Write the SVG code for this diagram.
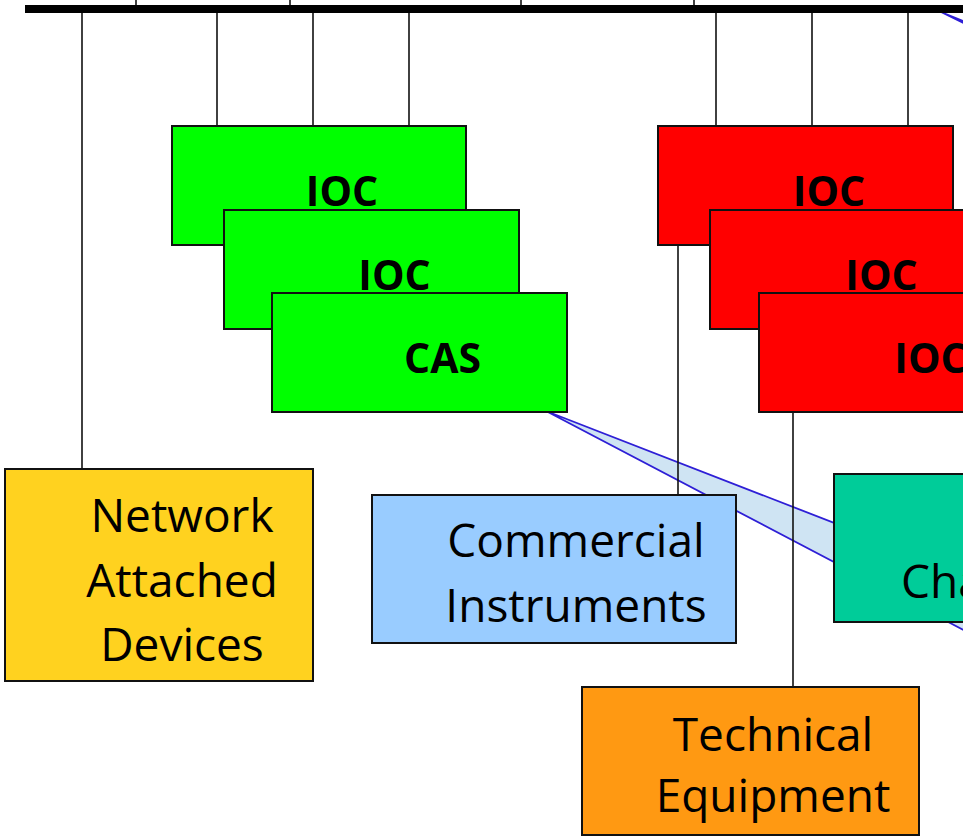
<svg xmlns="http://www.w3.org/2000/svg" width="963" height="836" viewBox="0 0 963 836">
  <style>
    .box { stroke: #111; stroke-width: 2; }
    .wire { stroke: #111; stroke-width: 1.6; fill: none; }
    .wedge { fill: #CFE4F3; stroke: #2E1FD6; stroke-width: 1.8; stroke-linejoin: round; }
    .bold { font-family: "Open Sans", "Liberation Sans", sans-serif; font-weight: bold; font-size: 41px; fill: #000; text-anchor: middle; }
    .label { font-family: "Open Sans", "Liberation Sans", sans-serif; font-size: 46px; fill: #000; text-anchor: middle; }
  </style>
  <rect width="963" height="836" fill="#fff"/>

  <!-- channel-access wedges (behind everything else) -->
  <g id="wedges">
    <polygon class="wedge" points="546,411 1200,665 1200,754"/>
    <polygon class="wedge" points="941,12 1000,36 1000,41"/>
  </g>

  <!-- network backbone and drop lines -->
  <g id="connectors">
    <line class="wire" x1="136" y1="0" x2="136" y2="9"/>
    <line class="wire" x1="290" y1="0" x2="290" y2="9"/>
    <line class="wire" x1="521" y1="0" x2="521" y2="9"/>
    <line class="wire" x1="694" y1="0" x2="694" y2="9"/>
    <line class="wire" x1="82" y1="9" x2="82" y2="469"/>
    <line class="wire" x1="217" y1="9" x2="217" y2="126"/>
    <line class="wire" x1="313" y1="9" x2="313" y2="126"/>
    <line class="wire" x1="409" y1="9" x2="409" y2="126"/>
    <line class="wire" x1="716" y1="9" x2="716" y2="126"/>
    <line class="wire" x1="812" y1="9" x2="812" y2="126"/>
    <line class="wire" x1="908" y1="9" x2="908" y2="126"/>
    <line class="wire" x1="678" y1="245" x2="678" y2="495"/>
    <line class="wire" x1="793" y1="412" x2="793" y2="687"/>
    <rect x="25" y="5" width="945" height="8" fill="#000"/>
  </g>

  <g id="ioc-green-1">
    <rect class="box" x="172" y="126" width="294" height="119" fill="#00FF00"/>
    <text class="bold" x="342" y="206">IOC</text>
  </g>
  <g id="ioc-green-2">
    <rect class="box" x="224" y="210" width="295" height="119" fill="#00FF00"/>
    <text class="bold" x="394.5" y="290">IOC</text>
  </g>
  <g id="cas-green">
    <rect class="box" x="272" y="293" width="295" height="119" fill="#00FF00"/>
    <text class="bold" x="442.5" y="373">CAS</text>
  </g>

  <g id="ioc-red-1">
    <rect class="box" x="658" y="126" width="295" height="119" fill="#FF0000"/>
    <text class="bold" x="829" y="206">IOC</text>
  </g>
  <g id="ioc-red-2">
    <rect class="box" x="710" y="210" width="295" height="119" fill="#FF0000"/>
    <text class="bold" x="881.5" y="290">IOC</text>
  </g>
  <g id="ioc-red-3">
    <rect class="box" x="759" y="293" width="295" height="119" fill="#FF0000"/>
    <text class="bold" x="930.5" y="373">IOC</text>
  </g>

  <g id="network-attached-devices">
    <rect class="box" x="5" y="469" width="308" height="212" fill="#FFD21F"/>
    <text class="label" x="182" y="532">Network</text>
    <text class="label" x="182" y="597">Attached</text>
    <text class="label" x="182" y="661">Devices</text>
  </g>

  <g id="commercial-instruments">
    <rect class="box" x="372" y="495" width="364" height="148" fill="#99CCFF"/>
    <text class="label" x="576" y="557">Commercial</text>
    <text class="label" x="576" y="622">Instruments</text>
  </g>

  <g id="technical-equipment">
    <rect class="box" x="582" y="687" width="337" height="148" fill="#FF9912"/>
    <text class="label" x="773" y="751">Technical</text>
    <text class="label" x="773" y="812">Equipment</text>
  </g>

  <g id="channel-box">
    <rect class="box" x="834" y="474" width="200" height="148" fill="#00CC99"/>
    <text class="label" x="901" y="598" style="text-anchor:start">Cha</text>
  </g>
</svg>
